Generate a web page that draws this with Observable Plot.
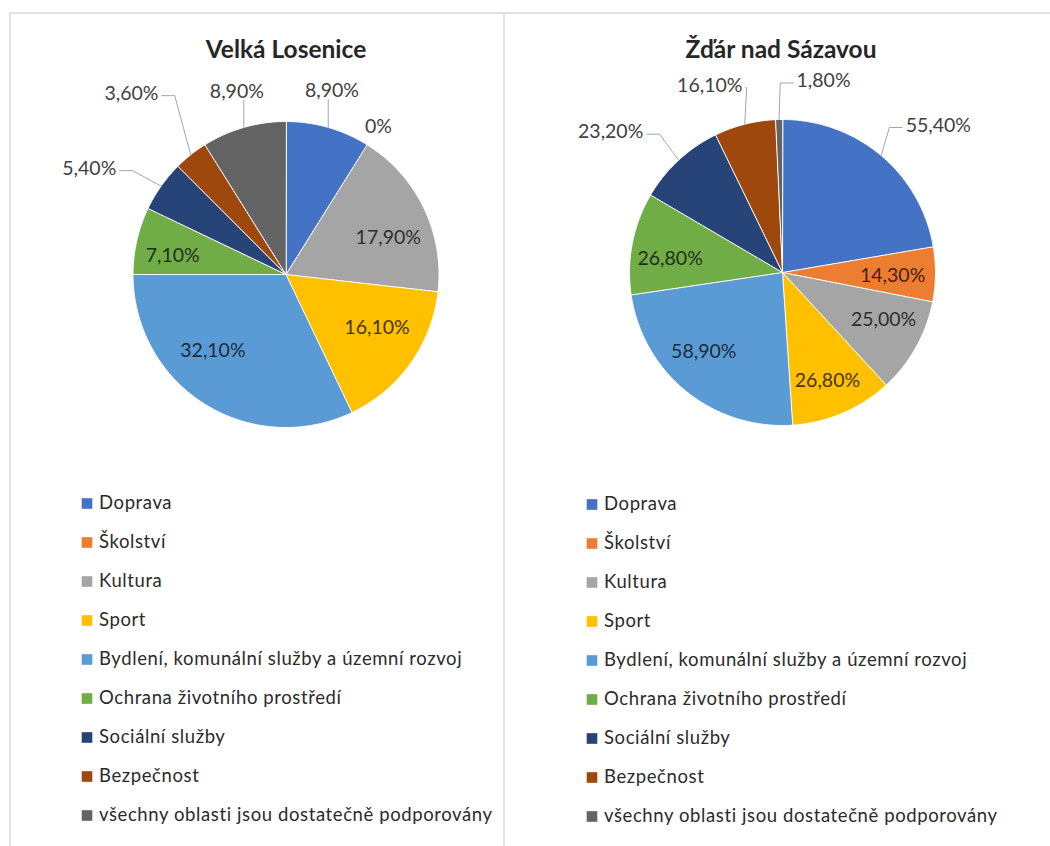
<!DOCTYPE html>
<html><head><meta charset="utf-8">
<script src="https://cdn.jsdelivr.net/npm/d3@7"></script>
<script src="https://cdn.jsdelivr.net/npm/@observablehq/plot@0.6"></script>
<style>
html,body{margin:0;padding:0;background:#fff;width:1050px;height:846px;overflow:hidden;font-family:Lato,"Open Sans",sans-serif;}
.panel{position:absolute;box-sizing:border-box;border-top:2px solid #e2e2e2;}
#p1{left:9px;top:12px;width:496px;height:900px;border-left:2px solid #e2e2e2;border-right:2px solid #e2e2e2;}
#p2{left:505px;top:12px;width:600px;height:900px;}
.title{position:absolute;font-family:Lato,sans-serif;font-weight:700;font-size:24.5px;color:#262626;transform:translateX(-50%);white-space:nowrap;line-height:1;}
.abs{position:absolute;}
</style></head><body>
<div class="panel" id="p1"></div>
<div class="panel" id="p2"></div>
<div class="title" id="t1" style="left:286px;top:37px;"></div>
<div class="title" id="t2" style="left:781px;top:37px;"></div>
<div class="abs" id="pie1" style="left:11px;top:14px;"></div>
<div class="abs" id="pie2" style="left:507px;top:14px;"></div>
<div class="abs" id="leg1" style="left:11px;top:482px;"></div>
<div class="abs" id="leg2" style="left:507px;top:480px;"></div>
<script>
// ---- data ----
const categories = [
  "Doprava",
  "Školství",
  "Kultura",
  "Sport",
  "Bydlení, komunální služby a územní rozvoj",
  "Ochrana životního prostředí",
  "Sociální služby",
  "Bezpečnost",
  "všechny oblasti jsou dostatečně podporovány"
];
const colors = ["#4472C4","#ED7D31","#A5A5A5","#FFC000","#5B9BD5","#70AD47","#264478","#9E480E","#636363"];
const titles = ["Velká Losenice", "Žďár nad Sázavou"];
const valuesVelkaLosenice = [8.9, 0, 17.9, 16.1, 32.1, 7.1, 5.4, 3.6, 8.9];
const valuesZdar = [55.4, 14.3, 25.0, 26.8, 58.9, 26.8, 23.2, 16.1, 1.8];

// ---- label layout (radius factor, angle offset in degrees, outside?) ----
const layoutVelka = [
  {k:1.24, da:-2, out:true, leader:true},
  {k:1.14, da:0, out:true, leader:false},
  {k:0.71, da:6},
  {k:0.69, da:-5},
  {k:0.69, da:11.6},
  {k:0.75, da:-3.5},
  {k:1.46, da:-7, out:true, leader:true},
  {k:1.555, da:-2, out:true, leader:true},
  {k:1.24, da:1, out:true, leader:true}
];
const layoutZdar = [
  {k:1.40, da:6.5, out:true, leader:true},
  {k:0.72, da:1},
  {k:0.73, da:-4},
  {k:0.765, da:0.7},
  {k:0.73, da:6},
  {k:0.74, da:-4},
  {k:1.45, da:-8, out:true, leader:true},
  {k:1.31, da:-7, out:true, leader:true},
  {k:1.28, da:13.4, out:true, leader:true}
];

const FONT = "Lato, 'Open Sans', sans-serif";
const R = 153; // pie radius in px
const LABEL_SIZE = 19.5;

function fmt(v){ return v === 0 ? "0%" : v.toFixed(2).replace(".", ",") + "%"; }
function textW(s){ // approx px width of a label
  let w = 0;
  for (const ch of s) w += /[0-9]/.test(ch) ? 0.58 : ch === "," ? 0.26 : ch === "%" ? 0.8 : 0.5;
  return w * LABEL_SIZE;
}

function pie(values, layout, el, dims){
  const arcs = d3.pie().sort(null).value(d => d)(values);
  const wedges = [];
  arcs.forEach((a, i) => {
    if (a.endAngle - a.startAngle <= 0) return;
    const cat = categories[i];
    wedges.push({cat, x:0, y:0});
    const n = Math.max(2, Math.ceil((a.endAngle - a.startAngle) / 0.01));
    for (let j = 0; j <= n; j++){
      const t = a.startAngle + (a.endAngle - a.startAngle) * j / n;
      wedges.push({cat, x: Math.sin(t), y: Math.cos(t)});
    }
  });
  const labels = [], leaders = [];
  arcs.forEach((a, i) => {
    const L = layout[i];
    const mid = (a.startAngle + a.endAngle) / 2;
    const ang = mid + L.da * Math.PI / 180;
    const lx = L.k * Math.sin(ang), ly = L.k * Math.cos(ang);
    const txt = fmt(values[i]);
    const col = L.out ? "#404040" : d3.color(colors[i]).darker(3.6).formatHex();
    labels.push({x: lx, y: ly, t: txt, col});
    if (L.leader){
      const ex = Math.sin(mid), ey = Math.cos(mid);
      const hw = textW(txt) / 2 / R;
      const px = 1 / R;
      let pts;
      if (ex >= lx - hw && ex <= lx + hw){
        pts = [[ex, ly - 9 * px], [ex, ey]];
      } else {
        const side = ex > lx ? 1 : -1;
        const sx = lx + side * (hw + 3 * px);
        const dist = Math.abs(ex - sx);
        const hx = sx + side * Math.min(13 * px, dist);
        pts = [[sx, ly - 2 * px], [hx, ly - 2 * px], [ex, ey]];
      }
      pts.forEach(p => leaders.push({id: i, x: p[0], y: p[1]}));
    }
  });
  const plot = Plot.plot({
    width: dims.w, height: dims.h,
    marginLeft: dims.ml, marginRight: dims.w - dims.ml - 2 * R,
    marginTop: dims.mt, marginBottom: dims.h - dims.mt - 2 * R,
    x: {domain: [-1, 1], axis: null},
    y: {domain: [-1, 1], axis: null},
    color: {domain: categories, range: colors},
    style: {overflow: "visible", background: "transparent"},
    marks: [
      Plot.line(wedges, {x: "x", y: "y", z: "cat", fill: "cat", stroke: "white", strokeWidth: 1, curve: "linear-closed"}),
      Plot.line(leaders, {x: "x", y: "y", z: "id", stroke: "#a6a6a6", strokeWidth: 1}),
      ...labels.map(l => Plot.text([l], {x: "x", y: "y", text: "t", fill: l.col, fontSize: LABEL_SIZE, fontFamily: FONT}))
    ]
  });
  document.getElementById(el).appendChild(plot);
}

function legend(el, dims){
  const plot = Plot.plot({
    width: dims.w, height: dims.h,
    marginLeft: dims.ml, marginRight: 0, marginTop: dims.mt, marginBottom: dims.mb,
    y: {type: "point", domain: categories, padding: 0, axis: null},
    color: {domain: categories, range: colors},
    style: {overflow: "visible", background: "transparent"},
    marks: [
      Plot.dot(categories, {y: d => d, frameAnchor: "left", symbol: "square", r: 6, fill: d => d, stroke: null}),
      Plot.text(categories, {y: d => d, frameAnchor: "left", text: d => d, dx: 12, textAnchor: "start", fill: "#2b2b2b", fontSize: 18.5, fontFamily: FONT})
    ]
  });
  plot.querySelectorAll("text").forEach(t => t.style.letterSpacing = "0.6px");
  document.getElementById(el).appendChild(plot);
}

document.getElementById("t1").textContent = titles[0];
document.getElementById("t2").textContent = titles[1];

pie(valuesVelkaLosenice, layoutVelka, "pie1", {w: 480, h: 440, ml: 121.5, mt: 107});
pie(valuesZdar, layoutZdar, "pie2", {w: 540, h: 440, ml: 122, mt: 105});
legend("leg1", {w: 480, h: 354, ml: 75.5, mt: 20.7, mb: 20});
legend("leg2", {w: 540, h: 360, ml: 84.5, mt: 20.7, mb: 20});
</script>
</body></html>
